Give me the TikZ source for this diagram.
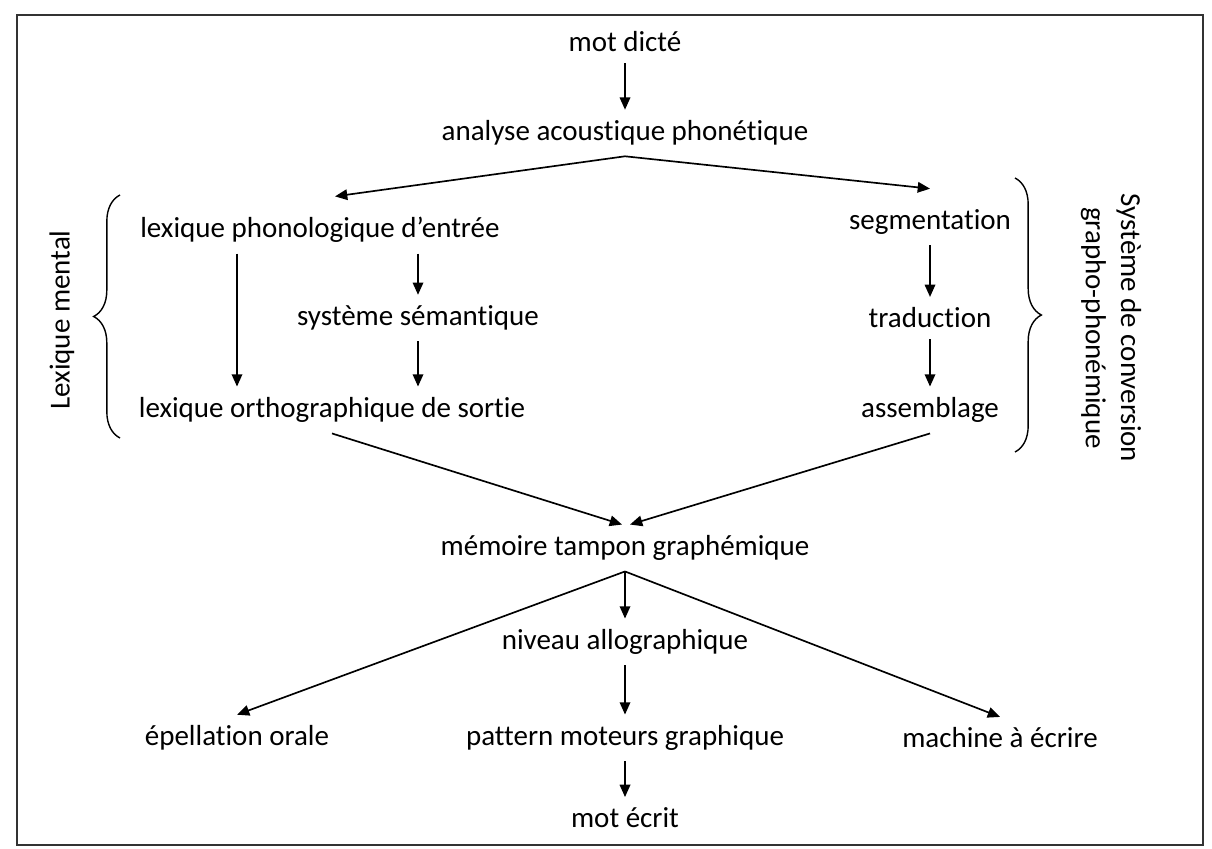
\documentclass[tikz,border=0pt]{standalone}
\usepackage{fontspec}
\setmainfont{Carlito}[Ligatures=NoCommon]
\usetikzlibrary{arrows.meta,positioning,calc,decorations.pathreplacing}

\begin{document}
\begin{tikzpicture}[x=0.02cm,y=-0.02cm,
  font=\fontsize{16.5}{20}\selectfont,
  lbl/.style={inner xsep=2pt,inner ysep=6pt},
  arr/.style={-{Triangle[length=7pt,width=6pt]},line width=0.95pt},
  brc/.style={decorate,decoration={brace,amplitude=15pt},line width=0.8pt},
]
\useasboundingbox (0,0) rectangle (1212,848);
\draw[line width=1.3pt,black!80] (17,15) rectangle (1203,845);

% colonne centrale
\node[lbl] (dicte) at (625,42) {mot dicté};
\node[lbl] (analyse) at (625,133) {analyse acoustique phonétique};

% lexique mental
\node[lbl] (lexphon) at (320,230) {lexique phonologique d’entrée};
\node[lbl] (semant) at (418,318) {système sémantique};
\node[lbl] (lexorth) at (332,410) {lexique orthographique de sortie};
\coordinate (lcol) at (237,0);

% conversion grapho-phonémique
\node[lbl] (segm) at (930,222) {segmentation};
\node[lbl] (trad) at (930,318) {traduction};
\node[lbl] (assem) at (930,410) {assemblage};

% sortie
\node[lbl] (tampon) at (625,548) {mémoire tampon graphémique};
\node[lbl] (allo) at (625,642) {niveau allographique};
\node[lbl] (epell) at (237,738) {épellation orale};
\node[lbl] (pattern) at (625,738) {pattern moteurs graphique};
\node[lbl] (machine) at (1000,738) {machine à écrire};
\node[lbl] (ecrit) at (625,818) {mot écrit};

% accolades
\coordinate (lbtop) at (120,195);
\coordinate (lbbot) at (120,438);
\coordinate (rbtop) at (1015,178);
\coordinate (rbbot) at (1015,452);
\draw[brc] (lbbot) -- (lbtop);
\draw[brc] (rbtop) -- (rbbot);
\node[rotate=90] (mental) at (62,320) {Lexique mental};
\node[rotate=-90,align=center] (conv) at (1111,328) {Système de conversion\\grapho-phonémique};

% flèches
\draw[arr] (dicte) -- (analyse);
\draw[arr] (analyse.south) -- ($(lexphon.north)+(15,-10)$);
\draw[arr] (analyse.south) -- ($(segm.north)+(0,-10)$);
\draw[arr] (lcol |- lexphon.south) -- (lcol |- lexorth.north);
\draw[arr] (lexphon.south -| semant) -- (semant);
\draw[arr] (semant) -- (lexorth.north -| semant);
\draw[arr] (segm) -- (trad);
\draw[arr] (trad) -- (assem);
\draw[arr] (lexorth.south) -- ($(tampon.north)+(-3,0)$);
\draw[arr] (assem.south) -- ($(tampon.north)+(5,0)$);
\draw[arr] (tampon.south) -- (allo);
\draw[arr] (tampon.south) -- (epell.north);
\draw[arr] (tampon.south) -- (machine.north);
\draw[arr] (allo) -- (pattern);
\draw[arr] (pattern) -- (ecrit);
\end{tikzpicture}
\end{document}
